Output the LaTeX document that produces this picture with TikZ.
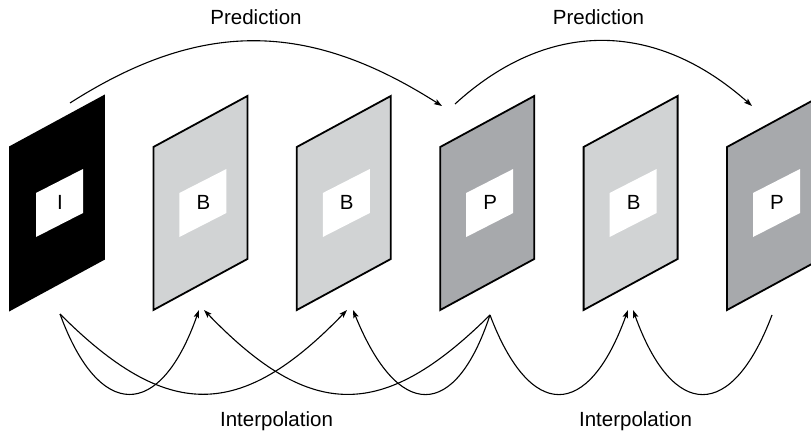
\documentclass[tikz,border=0pt]{standalone}
\usepackage{fontspec}
\setmainfont{Liberation Sans}
\usetikzlibrary{arrows.meta}
\definecolor{bgray}{RGB}{209,211,212}
\definecolor{pgray}{RGB}{167,169,172}
\begin{document}
\begin{tikzpicture}[x=1pt,y=-1pt,
  framebox/.style={line width=1.8pt,line join=miter,draw=black},
  lbl/.style={font=\fontsize{20.5}{24}\selectfont,inner sep=0pt},
  conn/.style={line width=1.1pt,-{Stealth[length=8pt,width=5.5pt,inset=1.5pt]}},
  ]
\useasboundingbox (0,0) rectangle (811,433);
\clip (0,0) rectangle (811,433);
\foreach \i/\x/\c/\t in {1/10/black/I,2/153.4/bgray/B,3/296.8/bgray/B,4/440.2/pgray/P,5/583.6/bgray/B,6/727/pgray/P}{
  \filldraw[framebox, fill=\c] (\x,310) -- (\x,147) -- ++(94,-51) -- ++(0,163) -- cycle;
  \fill[white] (\x+26,193) -- (\x+73,169) -- (\x+73,213) -- (\x+26,237) -- cycle;
  \node[lbl] (f\i) at (\x+50,202) {\t};
}
% connector end points
\coordinate (Ibot) at (60,314);
\coordinate (P1bot) at (490,315);
\coordinate (P2bot) at (772,315);
\coordinate (B1l) at (199,310);
\coordinate (B1r) at (204,310);
\coordinate (B2l) at (347,310);
\coordinate (B2r) at (353,310);
\coordinate (B3l) at (628,310);
\coordinate (B3r) at (633,310);
\coordinate (Itop) at (70,103);
\coordinate (P1in) at (442,106);
\coordinate (P1out) at (455,104);
\coordinate (P2in) at (752,106);
% prediction
\draw[conn] (Itop) .. controls +(130,-83) and +(-135,-86) .. (P1in);
\draw[conn] (P1out) .. controls +(93,-85) and +(-97,-86) .. (P2in);
% interpolation
\draw[conn] (Ibot) .. controls +(39,107) and +(-39,111) .. (B1l);
\draw[conn] (Ibot) .. controls +(107,107) and +(-107,111) .. (B2l);
\draw[conn] (P1bot) .. controls +(-107,106) and +(107,111) .. (B1r);
\draw[conn] (P1bot) .. controls +(-35,106) and +(45,111) .. (B2r);
\draw[conn] (P1bot) .. controls +(40,106) and +(-40,111) .. (B3l);
\draw[conn] (P2bot) .. controls +(-40,106) and +(40,111) .. (B3r);
% labels
\node[lbl, anchor=base] (pred1) at (256,25) {Prediction};
\node[lbl, anchor=base] (pred2) at (598.5,25) {Prediction};
\node[lbl, anchor=base] (int1) at (276.5,426) {Interpolation};
\node[lbl, anchor=base] (int2) at (635.5,426) {Interpolation};
\end{tikzpicture}
\end{document}
